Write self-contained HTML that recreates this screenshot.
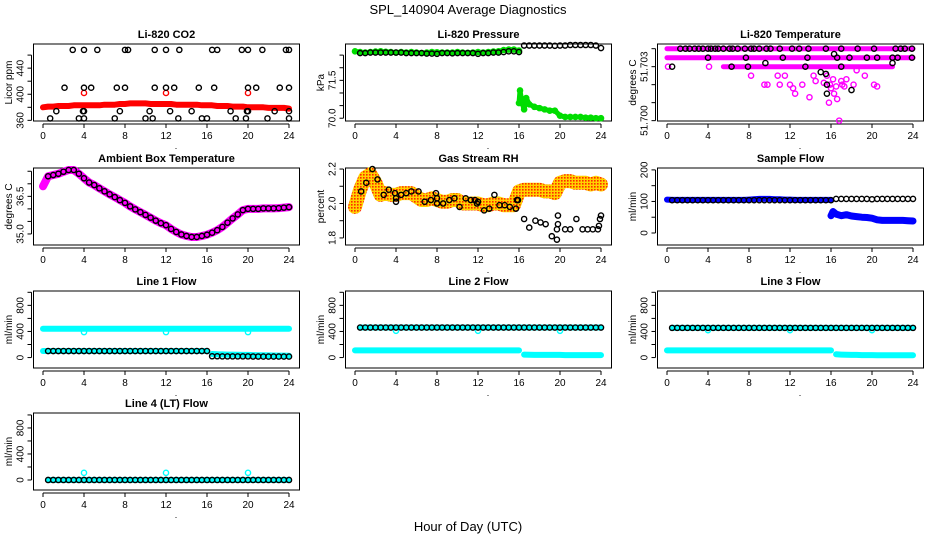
<!DOCTYPE html>
<html><head><meta charset="utf-8">
<style>
html,body{margin:0;padding:0;background:#fff;}
svg{display:block;font-family:"Liberation Sans",Arial,sans-serif;}
</style></head>
<body>
<svg id="chart" width="936" height="540" viewBox="0 0 936 540" xmlns="http://www.w3.org/2000/svg">
<defs>
<pattern id="rhpat" width="3" height="3" patternUnits="userSpaceOnUse">
<rect width="3" height="3" fill="#ffd200"/><rect width="1.6" height="1.6" fill="#ff2a00"/>
</pattern>
</defs>
<text x="468" y="14" text-anchor="middle" font-size="13">SPL_140904  Average Diagnostics</text>
<text x="468" y="531" text-anchor="middle" font-size="13">Hour of Day (UTC)</text>
</svg>
<script>
const hrs=[0,0.5,1,1.5,2,2.5,3,3.5,4,4.5,5,5.5,6,6.5,7,7.5,8,8.5,9,9.5,10,10.5,11,11.5,12,12.5,13,13.5,14,14.5,15,15.5,16,16.5,17,17.5,18,18.5,19,19.5,20,20.5,21,21.5,22,22.5,23,23.5,24];
const hrsA=[0,0.5,1,1.5,2,2.5,3,3.5,4,4.5,5,5.5,6,6.5,7,7.5,8,8.5,9,9.5,10,10.5,11,11.5,12,12.5,13,13.5,14,14.5,15,15.5,16];
const hrsB=[16.5,17,17.5,18,18.5,19,19.5,20,20.5,21,21.5,22,22.5,23,23.5,24];
const xTicks=[0,4,8,12,16,20,24];
// CO2
const co2Red=[380,381,381,382,382,382,383,383,383,383,383,383,384,384,384,385,385,386,386,386,386,385,385,385,385,385,384,384,384,384,384,383,383,383,382,382,382,381,381,381,380,380,380,380,379,379,379,379,378];
const co2RedOutH=[4,12,20];
const co2RedOutV=[402,402,402];
const co2BlkH=[2.9,4,5.3,8,8.3,10.9,12,13.3,16.5,17,19.4,20,21.4,23.7,24, 2.1,4,4.7,7.2,8,10.9,12,12.8,15.2,16.7,20,20.8,23.1,24, 1.3,3.9,4,7.5,10.4,12.4,14.5,18.3,19.9,20,22.6,24, 0.7,3.5,4,7,10,10.7,13.2,15.5,16,18.8,19.8,21.9,24];
const co2BlkV=[468,468,468,468,468,468,468,468,468,468,468,468,468,468,468, 410,410,410,410,410,410,410,410,410,410,410,410,410,410, 374,374,374,374,374,374,374,374,374,374,374,374, 363,363,363,363,363,363,363,363,363,363,363,363,363];
// Pressure
const pressGreenA=[72.65,72.62,72.6,72.62,72.64,72.65,72.63,72.62,72.6,72.62,72.6,72.62,72.6,72.58,72.6,72.62,72.61,72.6,72.6,72.6,72.62,72.6,72.59,72.6,72.62,72.6,72.62,72.64,72.65,72.7,72.72,72.72,72.68];
const pressGreenBH=[16,16.1,16.3,16.5,16.7,17,17.5,18,18.5,19,19.5,20,20.5,21,21.5,22,22.5,23,23.5,24];
const pressGreenBV=[70.6,71.1,70.6,70.35,70.8,70.55,70.45,70.4,70.35,70.3,70.3,70.1,70.05,70.05,70.05,70.05,70.02,70.02,70.0,70.0];
const pressBlkH=[0.5,1,1.5,2,2.5,3,3.5,4,4.5,5,5.5,6,6.5,7,7.5,8,8.5,9,9.5,10,10.5,11,11.5,12,12.5,13,13.5,14,14.5,15,15.5,16,16.5,17,17.5,18,18.5,19,19.5,20,20.5,21,21.5,22,22.5,23,23.5,24];
const pressBlkV=[72.58,72.58,72.6,72.6,72.6,72.6,72.6,72.6,72.6,72.58,72.58,72.58,72.58,72.56,72.56,72.55,72.58,72.58,72.57,72.58,72.58,72.58,72.58,72.55,72.58,72.58,72.6,72.6,72.62,72.65,72.65,72.62,72.88,72.88,72.88,72.88,72.88,72.88,72.87,72.88,72.88,72.9,72.9,72.9,72.9,72.9,72.88,72.78];
// Li-820 temperature
const tempBandLevel=[51.704,51.7035,51.703];
const tempBandStart=[0,0,5.5];
const tempBandEnd=[24,24,22];
const tempMagH=[0.1,4.1,8.2,9.5,9.8,10.8,11.5,12,12.5,13.2,13.9,14.5,15.3,15.6,15.9,16,16.2,16.5,16.8,17,17.3,17.5,18.2,19.3,20.2,20.5,16.3,15.8,17.1,16.6,11,12.3,14.3,18.5];
const tempMagV=[51.703,51.703,51.7025,51.702,51.702,51.7025,51.7025,51.702,51.7015,51.702,51.7013,51.7022,51.7021,51.7025,51.702,51.7018,51.7023,51.7019,51.7,51.7022,51.7019,51.7023,51.702,51.7025,51.702,51.7019,51.7015,51.701,51.702,51.7012,51.702,51.7018,51.7025,51.7028];
const tempBlkH=[1.3,1.8,2.2,2.7,3.1,3.5,4.0,4.3,4.7,5.0,5.5,6.1,6.4,6.9,7.6,8.2,8.5,9.0,9.7,10.1,11.0,12.2,12.9,13.8,15.5,17.0,18.6,20.2,22.3,22.8,23.2,23.9, 4.0,7.7,11.3,13.7,17.8,19.5,20.5,22,22.5,23.9, 0.5,6.3,7.9,13.5,17, 15,9.6,15.5,15.6,15.6,18,22,16.3,16.6];
const tempBlkV=[51.704,51.704,51.704,51.704,51.704,51.704,51.704,51.704,51.704,51.704,51.704,51.704,51.704,51.704,51.704,51.704,51.704,51.704,51.704,51.704,51.704,51.704,51.704,51.704,51.704,51.704,51.704,51.704,51.704,51.704,51.704,51.704, 51.7035,51.7035,51.7035,51.7035,51.7035,51.7035,51.7035,51.7035,51.7035,51.7035, 51.703,51.703,51.703,51.703,51.703, 51.7027,51.7032,51.7026,51.702,51.7015,51.7017,51.7032,51.7037,51.7035];
// Ambient box temperature
const ambV=[36.9,37.3,37.35,37.4,37.48,37.55,37.55,37.4,37.22,37.05,36.95,36.82,36.7,36.58,36.47,36.35,36.24,36.1,35.98,35.87,35.76,35.65,35.53,35.43,35.35,35.2,35.08,34.98,34.92,34.88,34.88,34.92,34.97,35.05,35.15,35.28,35.45,35.62,35.78,35.95,36.0,36.0,36.0,36.02,36.02,36.02,36.03,36.05,36.07];
// Gas stream RH
const rhBand=[1.98,2.08,2.15,2.17,2.12,2.05,2.06,2.05,2.05,2.06,2.06,2.06,2.04,2.02,2.02,2.03,2.02,2.01,2.01,2.02,2.02,2.0,2.0,2.0,2.0,1.99,1.99,2.0,2.0,1.99,1.99,1.99,2.07,2.08,2.08,2.08,2.08,2.07,2.07,2.06,2.12,2.13,2.13,2.12,2.12,2.12,2.11,2.12,2.11];
const rhBlkH=[0.6,1.1,1.7,2.2,2.8,3.3,3.9,4,4,4.5,5,5.5,6.2,6.8,7.4,7.9,8,8,8.6,9.2,9.7,10.2,10.8,11.3,11.7,11.9,12,12.6,13.1,13.6,14.1,14.6,15.1,15.7,15.8,15.9,16.5,17,17.6,18.1,18.6,19.2,19.7,19.7,19.8,19.8,20.5,21,21.6,22.2,22.7,23.2,23.7,23.8,23.9,24];
const rhBlkV=[2.07,2.12,2.2,2.14,2.05,2.08,2.06,2.03,2.01,2.05,2.06,2.07,2.07,2.01,2.02,2.06,2.03,2.0,2.0,2.02,2.03,1.98,2.03,2.02,2.02,2.0,2.01,1.96,1.97,2.05,1.99,1.99,1.98,1.97,2.02,2.02,1.91,1.86,1.9,1.89,1.88,1.81,1.79,1.85,1.88,1.93,1.85,1.85,1.91,1.85,1.85,1.85,1.85,1.87,1.91,1.93];
// Sample flow
const sampBlueA=[106,105,105,105,105,105,105,105,105,105,105,105,105,105,105,105,106,107,108,108,108,107,107,106,106,105,105,105,105,105,105,105,105];
const sampBlueBH=[16,16.2,16.5,17,17.5,18,18.5,19,19.5,20,20.5,21,21.5,22,22.5,23,23.5,24];
const sampBlueBV=[55,68,60,55,58,54,52,50,49,47,42,40,40,40,40,40,39,38];
const sampBlkA=[104,104,104,104,104,104,104,104,104,104,104,104,104,104,104,104,104,104,104,104,104,104,104,104,104,104,104,104,104,104,104,104];
const sampBlkB=[108,108,108,108,108,108,108,107,108,108,108,108,108,108,108,108];
// Line flows
const l1CyanHi=[440,440,440,440,440,440,440,440,440,440,440,440,440,440,440,440,440,440,440,440,440,440,440,440,440,440,440,440,440,440,440,440,440,440,440,440,440,440,440,440,440,440,440,440,440,440,440,440,440];
const l1CyanLoA=[100,100,100,100,100,100,100,100,100,100,100,100,100,100,100,100,100,100,100,100,100,100,100,100,100,100,100,100,100,100,100,100,100];
const l1CyanLoB=[55,50,48,45,45,42,40,40,38,35,35,33,32,30,30,28];
const l1BlkA=[100,100,100,100,100,100,100,100,100,100,100,100,100,100,100,100,100,100,100,100,100,100,100,100,100,100,100,100,100,100,100,100];
const l1BlkB=[20,20,18,18,18,18,18,18,16,16,15,15,15,15,15,15];
const l1OutV=[390,390,390];
const l2Blk=[460,460,460,460,460,460,460,460,460,460,460,460,460,460,460,460,460,460,460,460,460,460,460,460,460,460,460,460,460,460,460,460,460,460,460,460,460,460,460,460,460,460,460,460,460,460,460,460];
const l2CyanLoA=[110,110,110,110,110,110,110,110,110,110,110,110,110,110,110,110,110,110,110,110,110,110,110,110,110,110,110,110,110,110,110,110,110];
const l2CyanLoB=[45,42,40,40,40,40,40,40,38,38,38,38,38,38,38,38];
const l2OutV=[410,410,410];
const l3Blk=[455,455,455,455,455,455,455,455,455,455,455,455,455,455,455,455,455,455,455,455,455,455,455,455,455,455,455,455,455,455,455,455,455,455,455,455,455,455,455,455,455,455,455,455,455,455,455,455];
const l3CyanLoA=[110,110,110,110,110,110,110,110,110,110,110,110,110,110,110,110,110,110,110,110,110,110,110,110,110,110,110,110,110,110,110,110,110];
const l3CyanLoB=[50,45,42,40,40,38,38,38,36,35,35,35,35,35,35,35];
const l3OutV=[420,420,420];
const l4Blk=[0,0,0,0,0,0,0,0,0,0,0,0,0,0,0,0,0,0,0,0,0,0,0,0,0,0,0,0,0,0,0,0,0,0,0,0,0,0,0,0,0,0,0,0,0,0,0,0];
const l4OutV=[110,110,110];
const outH=[4,12,20];

const svg=document.getElementById('chart');
const NS='http://www.w3.org/2000/svg';
function mk(tag,attrs,parent){const e=document.createElementNS(NS,tag);for(const k in attrs)e.setAttribute(k,attrs[k]);(parent||svg).appendChild(e);return e;}
const rowTop=[44,168,291,413];
function panel(row,col,title,ylab,ymin,ymax,ticks,labels,fmt){
  const g=mk('g',{});
  
  
  const L=33.5+col*312,R=299.5+col*312,T=rowTop[row],B=T+77;
  const p={g,L,R,T,B,x:h=>43+col*312+h*246/24,y:v=>B-(v-ymin)/(ymax-ymin)*(B-T)};
  const t=mk('text',{x:(L+R)/2,y:T-6,'text-anchor':'middle','font-size':'11','font-weight':'bold'},g);
  t.textContent=title;
  
  
  const box=mk('rect',{x:L,y:T,width:R-L,height:B-T,fill:'none',stroke:'#000','stroke-width':1},g);
  
  
  const xa=mk('g',{},g);
  
  
  mk('line',{x1:p.x(0),x2:p.x(24),y1:B+3,y2:B+3,stroke:'#000'},xa);
  xTicks.forEach(h=>{mk('line',{x1:p.x(h),x2:p.x(h),y1:B+3,y2:B+7,stroke:'#000'},xa);
    const lt=mk('text',{x:p.x(h),y:B+18,'text-anchor':'middle','font-size':'10'},xa);lt.textContent=h;
    
    });
  const dot=mk('text',{x:176+col*312,y:B+28,'text-anchor':'middle','font-size':'9'},xa);dot.textContent='.';
  const ya=mk('g',{},g);
  
  
  mk('line',{x1:L-2,x2:L-2,y1:p.y(ticks[0]),y2:p.y(ticks[ticks.length-1]),stroke:'#000'},ya);
  ticks.forEach(v=>mk('line',{x1:L-6,x2:L-2,y1:p.y(v),y2:p.y(v),stroke:'#000'},ya));
  labels.forEach(v=>{const yy=p.y(v);const lt=mk('text',{x:L-10,y:yy,'text-anchor':'middle','font-size':'10',transform:`rotate(-90 ${L-10} ${yy})`},ya);lt.textContent=fmt(v);
    
    });
  const yl=mk('text',{x:col*312+12,y:(T+B)/2,'text-anchor':'middle','font-size':'10',transform:`rotate(-90 ${col*312+12} ${(T+B)/2})`},g);
  yl.textContent=ylab;
  
  
  return p;
}
function band(p,H,V,color,w,name){
  const n=Math.min(H.length,V.length);let d='';
  for(let i=0;i<n;i++)d+=(i?'L':'M')+p.x(H[i]).toFixed(1)+','+p.y(V[i]).toFixed(1);
  const e=mk('path',{d,fill:'none',stroke:color,'stroke-width':w,'stroke-linejoin':'round','stroke-linecap':'round'},p.g);
  
  
}
function pts(p,H,V,color,name,r){
  const n=Math.min(H.length,V.length);
  const g=mk('g',{},p.g);
  
  
  for(let i=0;i<n;i++){const c=mk('circle',{cx:p.x(H[i]),cy:p.y(V[i]),r:r||2.6,fill:'none',stroke:color,'stroke-width':1.4},g);
    
    }
}
const f0=v=>String(v),f1=v=>v.toFixed(1),f3=v=>v.toFixed(3);
const hrs1=hrs.slice(1),hrsA1=hrsA.slice(1);
let p=panel(0,0,'Li-820 CO2','Licor ppm',359,477,[360,380,400,420,440,460],[360,400,440],f0);
band(p,hrs,co2Red,'#ff0000',6,'co2-red-series');
pts(p,co2RedOutH,co2RedOutV,'#ff0000','co2-red-outliers');
pts(p,co2BlkH,co2BlkV,'#000','co2-black-series');
p=panel(0,1,'Li-820 Pressure','kPa',69.89,72.94,[70,70.5,71,71.5,72,72.5],[70,71.5],f1);
band(p,hrsA,pressGreenA,'#00dd00',5,'pressure-green-series');
pts(p,hrsA,pressGreenA,'#00dd00','pressure-green-points');
band(p,pressGreenBH,pressGreenBV,'#00dd00',5,'pressure-green-late');
pts(p,pressGreenBH,pressGreenBV,'#00dd00','pressure-green-late-points');
pts(p,pressBlkH,pressBlkV,'#000','pressure-black-series');
p=panel(0,2,'Li-820 Temperature','degrees C',51.69998,51.70426,[51.7,51.701,51.702,51.703,51.704],[51.7,51.703],f3);
tempBandLevel.forEach((lv,i)=>band(p,[tempBandStart[i],tempBandEnd[i]],[lv,lv],'#ff00ff',5,'temp-magenta-band'));
pts(p,tempMagH,tempMagV,'#ff00ff','temp-magenta-points');
pts(p,tempBlkH,tempBlkV,'#000','temp-black-series');
p=panel(1,0,'Ambient Box Temperature','degrees C',34.56,37.63,[35,35.5,36,36.5,37,37.5],[35,36.5],f1);
band(p,hrs,ambV,'#ff00ff',8,'ambient-magenta-series');
pts(p,hrs1,ambV.slice(1),'#000','ambient-black-series');
p=panel(1,1,'Gas Stream RH','percent',1.759,2.206,[1.8,1.9,2.0,2.1,2.2],[1.8,2.0,2.2],f1);
band(p,hrs,rhBand,'url(#rhpat)',14,'rh-orange-band');
pts(p,rhBlkH,rhBlkV,'#000','rh-black-series');
p=panel(1,2,'Sample Flow','ml/min',-38,206,[0,50,100,150,200],[0,100,200],f0);
band(p,hrsA,sampBlueA,'#0000ff',6,'sample-blue-series');
band(p,sampBlueBH,sampBlueBV,'#0000ff',7,'sample-blue-late');
pts(p,hrsA1,sampBlkA,'#000','sample-black-series');
pts(p,hrsB,sampBlkB,'#000','sample-black-late');
const fT=[0,200,400,600,800,1000],fL=[0,400,800];
p=panel(2,0,'Line 1 Flow','ml/min',-160,1020,fT,fL,f0);
band(p,hrs,l1CyanHi,'#00ffff',6,'line1-cyan-high');
band(p,hrsA,l1CyanLoA,'#00ffff',6,'line1-cyan-low');
band(p,hrsB,l1CyanLoB,'#00ffff',6,'line1-cyan-low-late');
pts(p,outH,l1OutV,'#00ffff','line1-cyan-outliers');
pts(p,hrsA1,l1BlkA,'#000','line1-black-series');
pts(p,hrsB,l1BlkB,'#000','line1-black-late');
p=panel(2,1,'Line 2 Flow','ml/min',-160,1020,fT,fL,f0);
band(p,hrs1,l2Blk,'#00ffff',6,'line2-cyan-high');
band(p,hrsA,l2CyanLoA,'#00ffff',6,'line2-cyan-low');
band(p,hrsB,l2CyanLoB,'#00ffff',6,'line2-cyan-low-late');
pts(p,outH,l2OutV,'#00ffff','line2-cyan-outliers');
pts(p,hrs1,l2Blk,'#000','line2-black-series');
p=panel(2,2,'Line 3 Flow','ml/min',-160,1020,fT,fL,f0);
band(p,hrs1,l3Blk,'#00ffff',6,'line3-cyan-high');
band(p,hrsA,l3CyanLoA,'#00ffff',6,'line3-cyan-low');
band(p,hrsB,l3CyanLoB,'#00ffff',6,'line3-cyan-low-late');
pts(p,outH,l3OutV,'#00ffff','line3-cyan-outliers');
pts(p,hrs1,l3Blk,'#000','line3-black-series');
p=panel(3,0,'Line 4 (LT) Flow','ml/min',-154,1030,fT,fL,f0);
band(p,hrs1,l4Blk,'#00ffff',6,'line4-cyan-series');
pts(p,outH,l4OutV,'#00ffff','line4-cyan-outliers');
pts(p,hrs1,l4Blk,'#000','line4-black-series');
</script>
</body></html>
